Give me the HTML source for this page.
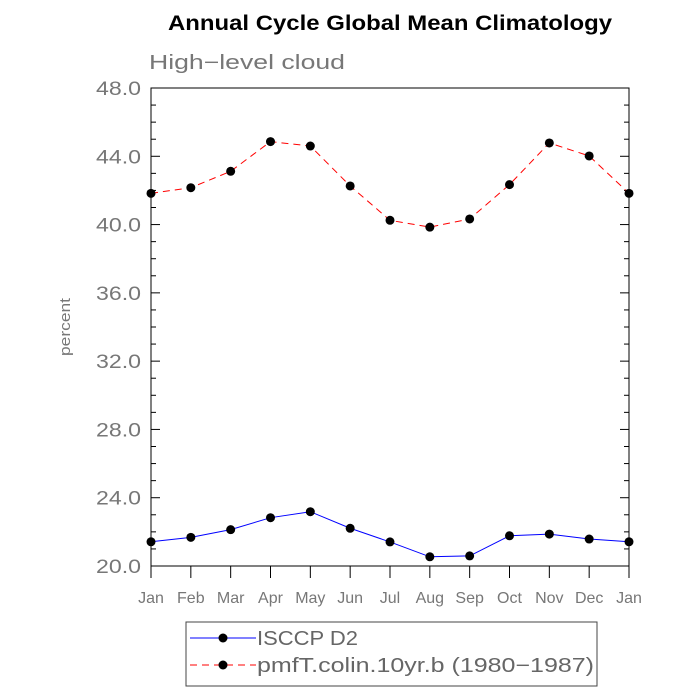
<!DOCTYPE html>
<html><head><meta charset="utf-8"><style>body{margin:0;background:#fff}svg{display:block}</style></head>
<body>
<svg id="c" width="700" height="700" font-family="Liberation Sans, sans-serif">
<text x="168" y="30" font-size="21" font-weight="bold" textLength="444" lengthAdjust="spacingAndGlyphs">Annual Cycle Global Mean Climatology</text>
<text x="149" y="69" font-size="20" fill="#777" textLength="196" lengthAdjust="spacingAndGlyphs">High−level cloud</text>
<text transform="translate(70,327) rotate(-90)" text-anchor="middle" font-size="15" fill="#777" textLength="58" lengthAdjust="spacingAndGlyphs">percent</text>
<g id="axes"></g><g id="marks"></g>
<rect x="186" y="622" width="411" height="64" fill="none" stroke="#444"/>
</svg>
<script>
const months=["Jan","Feb","Mar","Apr","May","Jun","Jul","Aug","Sep","Oct","Nov","Dec","Jan"];
const isccp=[21.42,21.68,22.13,22.83,23.18,22.21,21.41,20.54,20.59,21.77,21.87,21.58,21.42];
const model=[41.83,42.16,43.12,44.86,44.6,42.26,40.25,39.85,40.33,42.34,44.78,44.02,41.83];
const yTicks=["20.0","24.0","28.0","32.0","36.0","40.0","44.0","48.0"];
const NS="http://www.w3.org/2000/svg";
const L=151,R=629,T=88,B=566,ymin=20,ymax=48;
const xs=i=>L+(R-L)*i/(months.length-1);
const ys=v=>B-(v-ymin)/(ymax-ymin)*(B-T);
function mk(tag,a,p){const e=document.createElementNS(NS,tag);for(const k in a)e.setAttribute(k,a[k]);p.appendChild(e);return e;}
const ax=document.getElementById('axes'),mg=document.getElementById('marks');
const fr=mk('rect',{x:L,y:T,width:R-L,height:B-T,fill:'none',stroke:'#000','stroke-width':1},ax);


for(let v=ymin;v<=ymax;v++){const maj=(v-ymin)%4===0,len=maj?9:5,y=ys(v);
 mk('line',{x1:L,x2:L+len,y1:y,y2:y,stroke:'#000'},ax);
 mk('line',{x1:R,x2:R-len,y1:y,y2:y,stroke:'#000'},ax);}
yTicks.forEach(t=>{const y=ys(parseFloat(t));
 const e=mk('text',{x:96,y:y+7,'font-size':19,fill:'#777',textLength:45,lengthAdjust:'spacingAndGlyphs'},ax);e.textContent=t;
 
 });
months.forEach((m,i)=>{const x=xs(i);
 mk('line',{x1:x,x2:x,y1:B,y2:B+12,stroke:'#000'},ax);
 const e=mk('text',{x:x,y:B+37,'text-anchor':'middle','font-size':16,fill:'#777'},ax);e.textContent=m;
 
 });
function series(vals,color,dash,name){
 const p=mk('polyline',{points:vals.map((v,i)=>xs(i)+','+ys(v)).join(' '),fill:'none',stroke:color,'stroke-width':1,'stroke-dasharray':dash},mg);
 
 
 vals.forEach((v,i)=>{const c=mk('circle',{cx:xs(i),cy:ys(v),r:4.5,fill:'#000'},mg);
  
  });}
series(isccp,'#00f','none','isccp');
series(model,'#f00','7,5','model');
function leg(y,color,dash,label,name,w){
 const g=mk('g',{},mg);
 
 
 mk('line',{x1:190,x2:256,y1:y,y2:y,stroke:color,'stroke-dasharray':dash},g);
 mk('circle',{cx:223,cy:y,r:4.5,fill:'#000'},g);
 const t=mk('text',{x:257,y:y+7,'font-size':20,fill:'#666',textLength:w,lengthAdjust:'spacingAndGlyphs'},g);t.textContent=label;}
leg(638,'#00f','none','ISCCP D2','isccp',101);
leg(665,'#f00','7,5','pmfT.colin.10yr.b (1980−1987)','model',337);
</script>
</body></html>
